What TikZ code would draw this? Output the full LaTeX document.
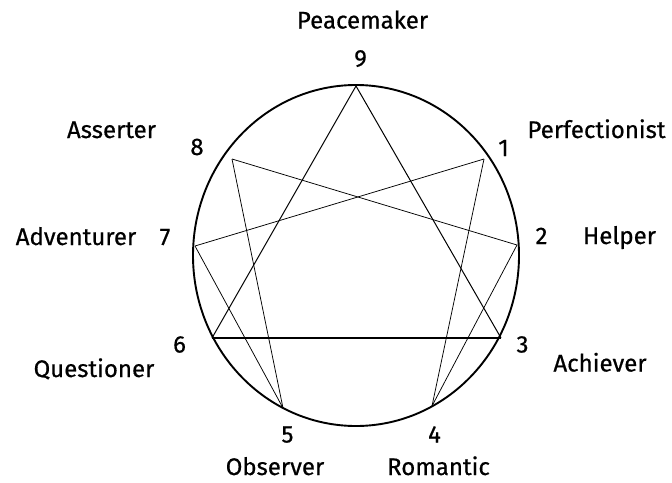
\documentclass[tikz,border=0pt]{standalone}
\usepackage{fontspec}
\newfontfamily\lblfont{Fira Sans}[FakeBold=0.6]
\begin{document}
\begin{tikzpicture}[x=1pt,y=-1pt,
  lbl/.style={inner sep=0pt, anchor=base, font=\lblfont\fontsize{24}{28}\selectfont},
  thinline/.style={line width=0.75pt},
  triline/.style={line width=1pt},
  boldline/.style={line width=1.9pt}]
\useasboundingbox (0,0) rectangle (672,482);
% enneagram points
\coordinate (p9) at (356,86);
\coordinate (p1) at (484,159);
\coordinate (p2) at (517,245);
\coordinate (p3) at (501,338);
\coordinate (p4) at (432,406);
\coordinate (p5) at (283,408);
\coordinate (p6) at (212,338);
\coordinate (p7) at (195,246);
\coordinate (p8) at (232,159);
% circle
\draw[line width=1.9pt] (356,255.5) ellipse [x radius=163, y radius=170.5];
% triangle
\draw[triline] (p9) -- (p3);
\draw[triline] (p9) -- (p6);
\draw[boldline] (p6) -- (p3);
% hexad
\draw[thinline] (p1) -- (p4);
\draw[thinline] (p4) -- (p2);
\draw[thinline] (p2) -- (p8);
\draw[thinline] (p8) -- (p5);
\draw[thinline] (p5) -- (p7);
\draw[thinline] (p7) -- (p1);
% numbers
\node[lbl] (n9) at (360.5,66.5) {9};
\node[lbl] (n1) at (503.5,156) {1};
\node[lbl] (n2) at (541.5,244) {2};
\node[lbl] (n3) at (522.5,352.5) {3};
\node[lbl] (n4) at (434.5,442.5) {4};
\node[lbl] (n5) at (287.5,442.5) {5};
\node[lbl] (n6) at (179.5,352.5) {6};
\node[lbl] (n7) at (165,245) {7};
\node[lbl] (n8) at (197,155) {8};
% names
\node[lbl] (t9) at (362.5,28.5) {Peacemaker};
\node[lbl] (t1) at (596.5,138) {Perfectionist};
\node[lbl] (t2) at (619.5,244) {Helper};
\node[lbl] (t3) at (600,371.5) {Achiever};
\node[lbl] (t4) at (438.5,475) {Romantic};
\node[lbl] (t5) at (275,475) {Observer};
\node[lbl] (t6) at (94,377) {Questioner};
\node[lbl] (t7) at (76,245) {Adventurer};
\node[lbl] (t8) at (111.5,138) {Asserter};
\end{tikzpicture}
\end{document}
